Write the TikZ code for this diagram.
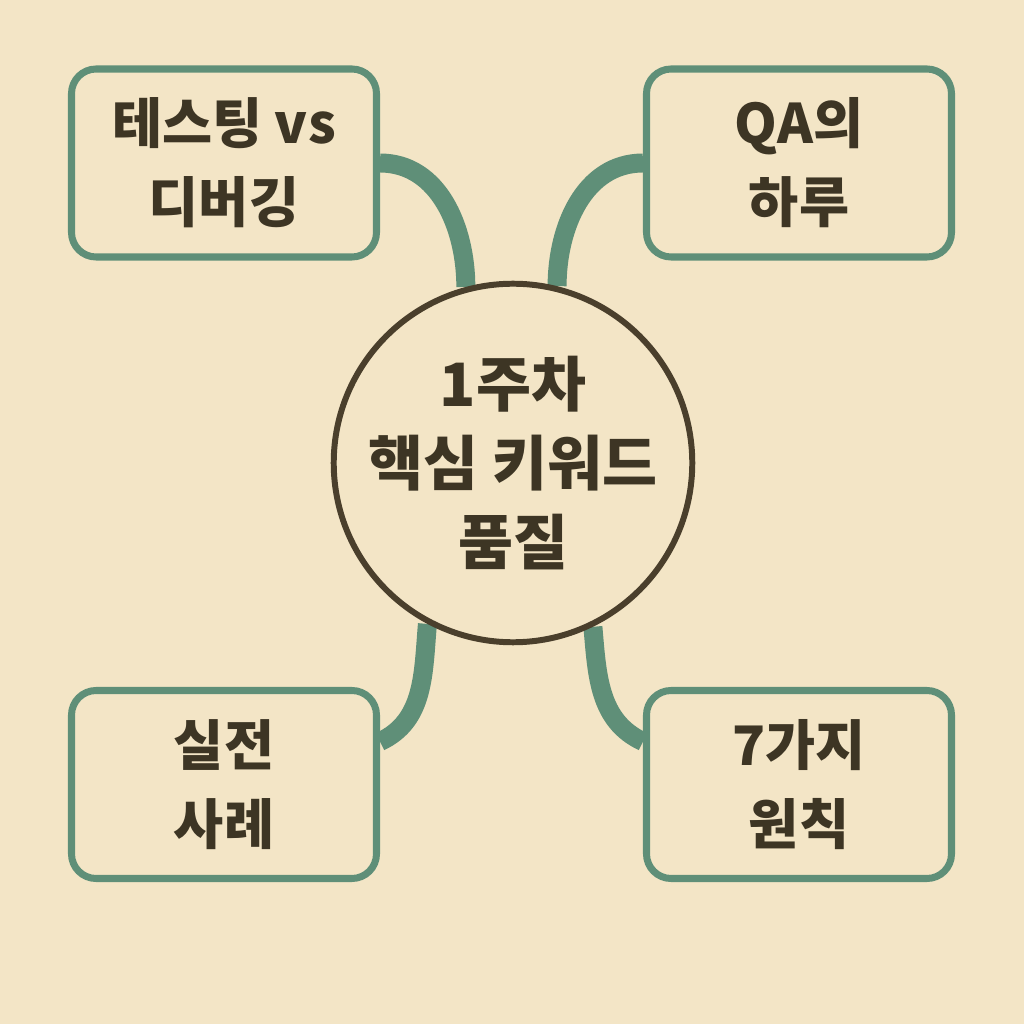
\documentclass[tikz,border=0pt]{standalone}
\usepackage{fontspec}
\setmainfont{Noto Sans CJK KR}
\usepackage{tikz}
\usetikzlibrary{calc,positioning}
\definecolor{paperBg}{HTML}{F3E5C6}
\definecolor{linkGreen}{HTML}{5F8F78}
\definecolor{inkBrown}{HTML}{3D3524}
\definecolor{ringBrown}{HTML}{4A3F2C}
\pgfdeclarelayer{paper}
\pgfdeclarelayer{links}
\pgfsetlayers{paper,links,main}

\begin{document}
\begin{tikzpicture}[
    keybox/.style={draw=linkGreen,line width=2pt,rounded corners=7pt,fill=paperBg,
      minimum width=3.05cm,minimum height=1.88cm,align=center,text=inkBrown,
      font=\bfseries\fontsize{15.5}{22.5}\selectfont},
    hub/.style={circle,draw=ringBrown,line width=1.7pt,fill=paperBg,
      minimum size=3.4cm,inner sep=0pt,align=center,text=inkBrown,
      font=\bfseries\fontsize{17}{22.5}\selectfont},
    link/.style={draw=linkGreen,line width=5.4pt}
  ]
    \useasboundingbox (0,0) rectangle (10.24,10.24);

    \node[hub] (core) at (5.13,5.61) {1주차\\핵심 키워드\\품질};
    \node[keybox] (testing) at (2.24,8.61) {테스팅 vs\\디버깅};
    \node[keybox] (qaday) at (7.99,8.61) {QA의\\하루};
    \node[keybox] (cases) at (2.24,2.395) {실전\\사례};
    \node[keybox] (rules) at (7.99,2.395) {7가지\\원칙};

    \coordinate (casesOut) at ($(cases.north east)!0.28!(cases.south east)$);
    \coordinate (rulesOut) at ($(rules.north west)!0.28!(rules.south west)$);

    % connectors sit under the boxes and the circle
    \begin{pgfonlayer}{links}
    \path[link] (testing.east) to[out=0,in=90] (core.105.7);
    \path[link] (qaday.west) to[out=180,in=90] (core.76);
    \path[link] (casesOut) to[out=25,in=-95] (core.242.7);
    \path[link] (rulesOut) to[out=155,in=-85] (core.296.7);
    \end{pgfonlayer}

    \begin{pgfonlayer}{paper}
    \fill[paperBg] (0,0) rectangle (10.24,10.24);
    \end{pgfonlayer}
  \end{tikzpicture}
\end{document}
